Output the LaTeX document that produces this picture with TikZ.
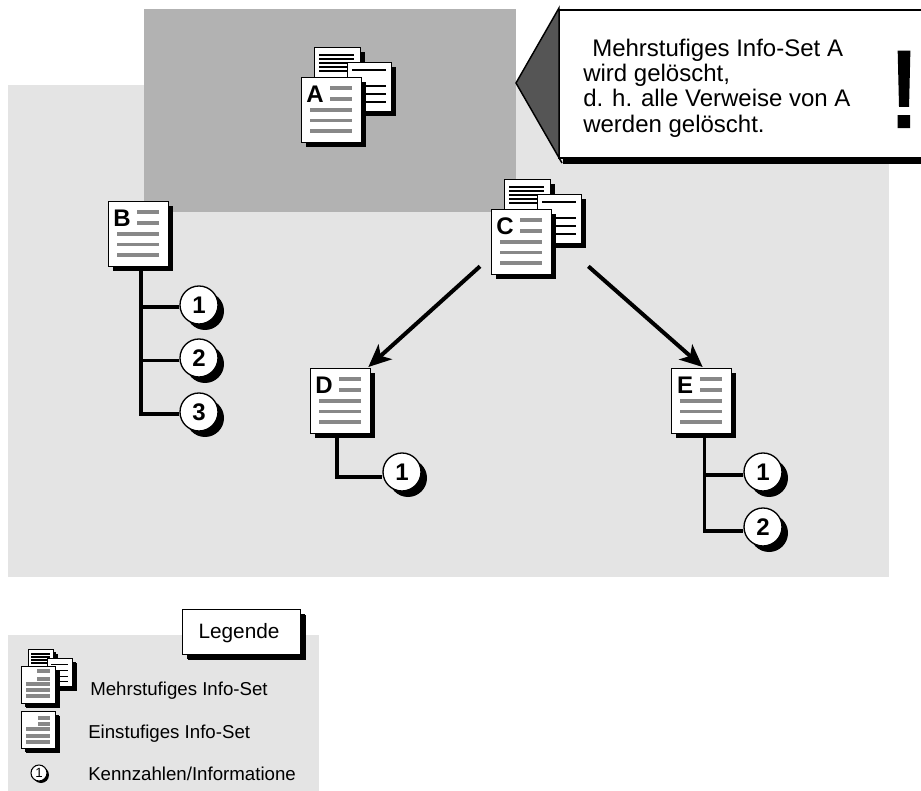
\documentclass[tikz,border=0pt]{standalone}
\usepackage{fontspec}
\setmainfont{Liberation Sans}
\newfontfamily\bangfont[FakeBold=2]{Liberation Sans}
\usetikzlibrary{shadows,arrows.meta}
\definecolor{lightbg}{HTML}{E4E4E4}
\definecolor{darkbg}{HTML}{B2B2B2}
\definecolor{rulegray}{HTML}{888888}
\definecolor{tipgray}{HTML}{555555}
\tikzset{
  hardshadow/.style={drop shadow={shadow xshift=#1,shadow yshift=-#1,opacity=1,fill=black}},
  sheet/.style={draw=black,line width=1pt,fill=white,inner sep=0pt,anchor=north west,hardshadow=3pt},
  bigsheet/.style={sheet,minimum width=45pt,minimum height=48.75pt},
  numcircle/.style={circle,draw=black,line width=1pt,fill=white,inner sep=0pt,minimum size=28.5pt,hardshadow=4.5pt,font=\fontsize{18}{20}\selectfont\bfseries},
  smallcircle/.style={circle,draw=black,line width=.8pt,fill=white,inner sep=0pt,minimum size=12pt,hardshadow=1.5pt,font=\fontsize{10}{10}\selectfont},
  conn/.style={draw=black,line width=#1},
  conn/.default=2.6pt,
  pointer/.style={draw=black,line width=3pt,-{Stealth[length=17pt,width=15pt,inset=4.5pt]}},
  grayrule/.style={draw=rulegray,line width=2.4pt},
  legendrule/.style={draw=rulegray,line width=2.7pt},
  thinrule/.style={draw=black,line width=.9pt},
  legendtext/.style={anchor=base west,inner sep=0pt,font=\fontsize{14}{16}\selectfont},
}
\newcommand{\pagerules}[1]{%
  \foreach \ya in {11,22}{\draw[grayrule] ([shift={(29,\ya)}]#1.north west) -- ++(22,0);}
  \foreach \ya in {33,43.5,54}{\draw[grayrule] ([shift={(9,\ya)}]#1.north west) -- ++(42,0);}
}
\newcommand{\bigsingle}[4]{%
  \node[bigsheet] (#1) at (#2,#3) {};
  \pagerules{#1}
  \node[anchor=base,inner sep=0pt,font=\fontsize{18}{20}\selectfont\bfseries] (#1t) at ([shift={(14,26)}]#1.north west) {#4};
}
\newcommand{\bigmulti}[4]{%
  \node[sheet,hardshadow=3.5pt,minimum width=34.5pt,minimum height=33pt] (#1r) at (#2+13,#3-30) {};
  \foreach \ya in {8,12,16,20,24}{\draw[thinrule] ([shift={(5,\ya)}]#1r.north west) -- ++(35,0);}
  \node[sheet,hardshadow=3.5pt,minimum width=33pt,minimum height=36.75pt] (#1s) at (#2+46,#3-15) {};
  \foreach \ya in {8,24,32,40}{\draw[thinrule] ([shift={(5,\ya)}]#1s.north west) -- ++(34,0);}
  \bigsingle{#1}{#2}{#3}{#4}
}
\begin{document}
\begin{tikzpicture}[x=.75pt,y=-.75pt]
\useasboundingbox (0,0) rectangle (921,791);
\fill[white] (0,0) rectangle (921,791);
% backgrounds
\fill[lightbg] (8,85) rectangle (889,577);
\fill[darkbg] (144,9) rectangle (516,212);
\fill[lightbg] (8,635) rectangle (319,791);
% callout
\fill[black] (563,158) rectangle (921,164.5);
\filldraw[fill=white,draw=black,line width=1.1pt] (921,10) -- (559,10) -- (559,158) -- (921,158);
\filldraw[fill=tipgray,draw=black,line width=1.1pt,line join=miter] (559,8) -- (516,83) -- (562,163) -- (559,158) -- cycle;
\node[anchor=west,align=left,inner sep=0pt,font=\fontsize{18}{18.9}\selectfont] (calloutText) at (583,88) {\hspace*{6.75pt}Mehrstufiges Info-Set A\\wird gelöscht,\\d. h. alle Verweise von A\\werden gelöscht.};
\node[anchor=base,inner sep=0pt,font=\bangfont\fontsize{82}{90}\selectfont] (bang) at (904,127) {!};
% pages
\bigmulti{A}{301}{77}{A}
\bigmulti{C}{491}{209}{C}
\bigsingle{B}{108}{201}{B}
\bigsingle{D}{310}{368}{D}
\bigsingle{E}{671}{368}{E}
% circles
\node[numcircle] (b1) at (199,305) {1};
\node[numcircle] (b2) at (199,358) {2};
\node[numcircle] (b3) at (199,412) {3};
\node[numcircle] (d1) at (402,472) {1};
\node[numcircle] (e1) at (763,472) {1};
\node[numcircle] (e2) at (763,527) {2};
% connectors
\draw[conn=3.1pt] ([xshift=1.9pt]B.south) |- ([yshift=-1.5pt]b1.west);
\draw[conn=2.4pt] ([xshift=1.9pt]B.south) |- ([yshift=-2pt]b2.west);
\draw[conn=3.1pt] ([xshift=1.9pt]B.south) |- ([yshift=-1.5pt]b3.west);
\draw[conn=3.1pt] ([xshift=-3pt]D.south) |- ([yshift=-3.5pt]d1.west);
\draw[conn=2.6pt] ([xshift=2.25pt]E.south) |- ([yshift=-2.2pt]e1.west);
\draw[conn=2.6pt] ([xshift=2.25pt]E.south) |- ([yshift=-3pt]e2.west);
\coordinate (cl) at ([shift={(-11,-9)}]C.south west);
\coordinate (cr) at ([shift={(36,-9)}]C.south east);
\coordinate (dtip) at ([shift={(-3,-1)}]D.north east);
\coordinate (etip) at ([shift={(1,-1)}]E.north);
\draw[pointer] (cl) -- (dtip);
\draw[pointer] (cr) -- (etip);
% legend
\node[sheet,hardshadow=4.2pt,minimum width=88.5pt,minimum height=33.75pt] (legendbox) at (182,609) {};
\node[inner sep=0pt,anchor=base,font=\fontsize{15.6}{18}\selectfont] (legendtitle) at ([shift={(57,29)}]legendbox.north west) {Legende};
% legend icon multi
\node[sheet,hardshadow=1.8pt,minimum width=18.75pt,minimum height=18pt] (lmr) at (28,649) {};
\foreach \ya in {5,8,11,14}{\draw[black,line width=1.3pt] ([shift={(3,\ya)}]lmr.north west) -- ++(19,0);}
\node[sheet,hardshadow=2.2pt,minimum width=18.75pt,minimum height=21pt] (lms) at (47,658) {};
\foreach \ya in {6,12,18,23}{\draw[black,line width=.7pt] ([shift={(4,\ya)}]lms.north west) -- ++(17,0);}
\node[sheet,hardshadow=2.2pt,minimum width=25.5pt,minimum height=27.75pt] (lmf) at (21,666) {};
\foreach \ya in {5,13}{\draw[legendrule] ([shift={(16,\ya)}]lmf.north west) -- ++(13,0);}
\foreach \ya in {18,24,30}{\draw[legendrule] ([shift={(5,\ya)}]lmf.north west) -- ++(24,0);}
\node[legendtext] (ltm) at (90,695) {Mehrstufiges Info-Set};
% legend icon single
\node[sheet,hardshadow=2.2pt,minimum width=25.5pt,minimum height=27.75pt] (lsf) at (21,711) {};
\foreach \ya in {7,13}{\draw[legendrule] ([shift={(17,\ya)}]lsf.north west) -- ++(12,0);}
\foreach \ya in {18,25,31}{\draw[legendrule] ([shift={(5,\ya)}]lsf.north west) -- ++(24,0);}
\node[legendtext] (lte) at (88,738) {Einstufiges Info-Set};
% legend circle
\node[smallcircle] (lc) at (39,773) {1};
\node[legendtext] (ltk) at (88,780) {Kennzahlen/Informatione};
\end{tikzpicture}
\end{document}
